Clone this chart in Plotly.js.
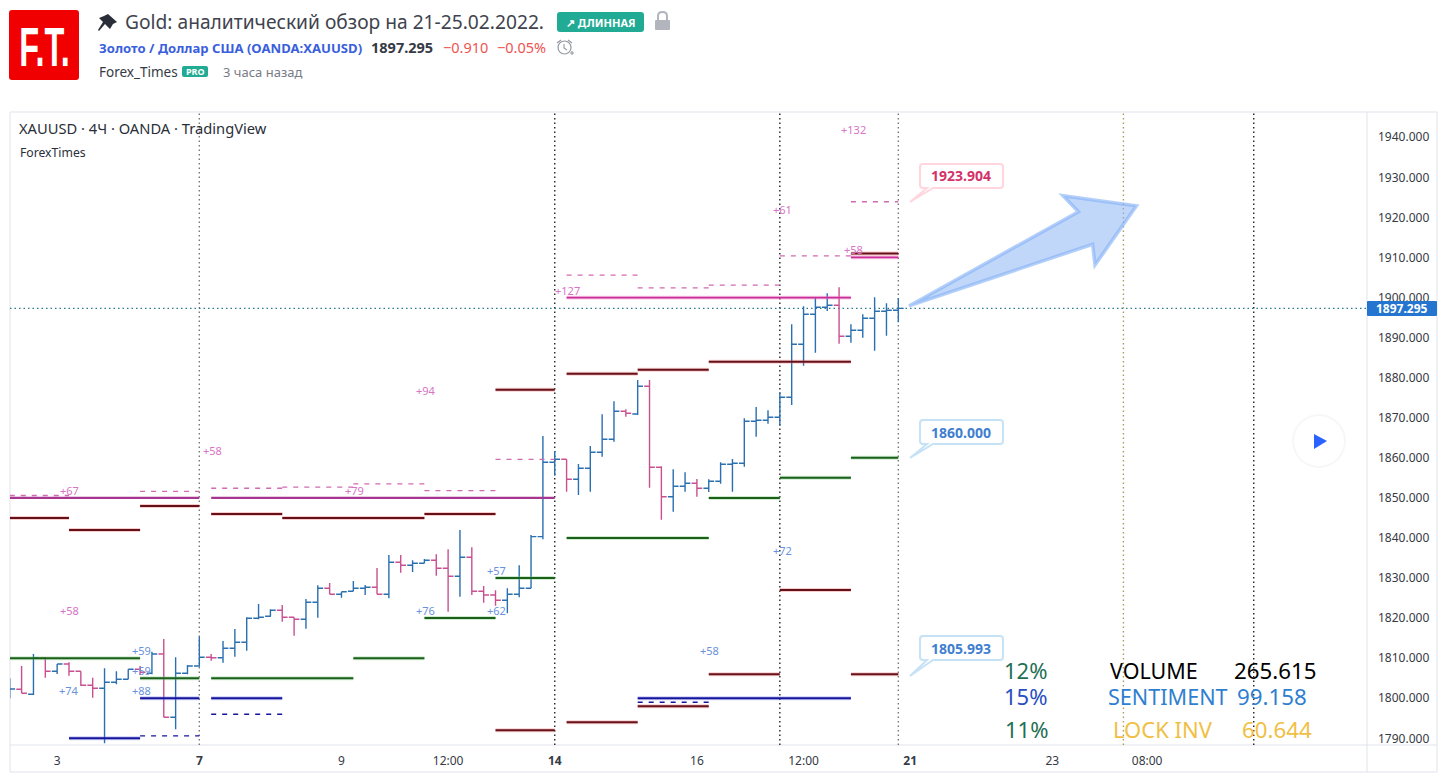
<!DOCTYPE html>
<html><head><meta charset="utf-8">
<style>html,body{margin:0;padding:0;background:#fff;overflow:hidden}</style>
<script src="https://cdn.plot.ly/plotly-3.0.1.min.js"></script>
</head><body><div id="chart" style="width:1440px;height:777px"></div>
<script>
// ---- data: 4h bars, x = bar number counted from Monday the 7th
const barIndex=[-16,-15,-14,-13,-12,-11,-10,-9,-8,-7,-6,-5,-4,-3,-2,-1,0,1,2,3,4,5,6,7,8,9,10,11,12,13,14,15,16,17,18,19,20,21,22,23,24,25,26,27,28,29,30,31,32,33,34,35,36,37,38,39,40,41,42,43,44,45,46,47,48,49,50,51,52,53,54,55,56,57,58,59];
const open=[1802,1802.23,1800.98,1809.97,1806.72,1808.55,1806.72,1803.23,1802.48,1803.98,1804.73,1807.22,1806.22,1811.04,1795.24,1806.22,1808.05,1810.22,1810.1,1812.46,1813.96,1819.95,1820.45,1821.95,1820.2,1819.7,1823.95,1827.44,1825.94,1826.69,1827.44,1827.69,1825.94,1833.93,1833.18,1833.68,1834.43,1832.43,1830.44,1835.18,1826.69,1825.77,1824.44,1825.94,1827.44,1840.32,1858.89,1859.64,1854.65,1857.39,1861.39,1864.63,1871.62,1870.95,1877.86,1857.64,1850.3,1852.9,1853.65,1852.4,1854.15,1858.39,1858.64,1869.12,1869.37,1870.12,1875.11,1888.34,1895.83,1897.58,1898.08,1890.34,1891.84,1894.83,1896.58,1896.83];
const high=[1805,1808.05,1811.04,1810.29,1808.55,1808.97,1806.72,1805.13,1807.47,1806.72,1807.22,1808.05,1811.62,1814.79,1810.22,1808.3,1815.36,1811.04,1814.29,1817.28,1820.2,1823.52,1822.2,1823.27,1820.2,1824.77,1828.19,1828.76,1826.59,1829.26,1828.26,1832.51,1835.75,1835.75,1834.43,1834.75,1835.93,1837.17,1841.99,1837.67,1828.01,1826.94,1827.44,1833.18,1840.74,1865.45,1861.71,1859.64,1858.46,1862.96,1870.87,1874.12,1872.12,1879.43,1879.43,1857.89,1857.14,1856.39,1854.72,1854.65,1858.89,1859.71,1869.87,1872.69,1871.87,1876.36,1893.33,1897.83,1900.07,1901.07,1902.57,1893.33,1895.83,1900.07,1898.58,1899.82];
const low=[1800,1801.23,1800.81,1805.13,1806.05,1805.62,1803.05,1800.13,1788.75,1803.48,1804.73,1805.8,1805.97,1795.24,1792.25,1805.97,1807.87,1809.37,1808.87,1810.37,1811.86,1819.7,1820.35,1819.1,1815.61,1817.36,1820.1,1825.94,1825.09,1826.69,1825.77,1825.94,1824.94,1831.33,1831.51,1833.68,1830.58,1821.6,1825.34,1825.77,1823.85,1823.1,1821.2,1825.19,1827.44,1839.67,1855.54,1851.55,1850.73,1851.55,1860.29,1864.03,1870.27,1870.7,1852.55,1844.56,1846.56,1851.55,1850.3,1851.48,1853.55,1851.55,1857.79,1865.28,1868.52,1868.02,1873.19,1883,1886.25,1896.65,1888.49,1888.74,1889.99,1886.74,1890.49,1893.83];
const close=[1802.3,1801.23,1810.04,1806.72,1808.55,1806.72,1803.23,1802.48,1803.98,1804.73,1807.22,1806.47,1811.04,1795.24,1806.22,1808.05,1810.22,1810.1,1812.46,1813.96,1819.95,1820.2,1821.95,1820.2,1819.7,1823.95,1827.44,1825.94,1826.59,1827.44,1827.69,1825.94,1833.93,1833.18,1833.68,1834.43,1832.43,1830.44,1835.18,1826.69,1825.77,1824.44,1825.94,1827.44,1840.32,1858.89,1859.64,1854.65,1857.39,1861.39,1864.63,1871.62,1871.12,1877.86,1857.64,1850.3,1852.9,1853.65,1852.4,1854.15,1858.39,1858.64,1869.12,1869.37,1870.12,1875.11,1888.34,1895.83,1897.58,1898.08,1890.34,1891.84,1894.83,1896.58,1896.83,1897.295];
const lastPrice=1897.295;

// horizontal levels: from bar, to bar, price
const redFrom=[-16,-11,-5,1,7,19,25,31,37,43,55,25,31,37,43,49,55];
const redTo=[-11,-5,0,7,19,25,30,37,43,55,59,30,37,43,49,55,59];
const redPrice=[1845,1842,1848,1846,1845,1846,1877,1881,1882,1884,1911,1792,1794,1798,1806,1827,1806];
const greenFrom=[-16,-5,1,13,19,25,31,43,49,55];
const greenTo=[-5,0,13,19,25,30,43,49,55,59];
const greenPrice=[1810,1805,1805,1810,1820,1830,1840,1850,1855,1860];
const navyFrom=[-11,-5,1,37];
const navyTo=[-5,0,7,55];
const navyPrice=[1790,1800,1800,1800];
const navyDashFrom=[-5,1,37];
const navyDashTo=[0,7,43];
const navyDashPrice=[1790.6,1796,1799];
const purpleFrom=[-16,1];
const purpleTo=[0,30];
const purplePrice=[1850,1850];
const magentaFrom=[31,55];
const magentaTo=[55,59];
const magentaPrice=[1900,1910];
const dashFrom=[-16,-11,-5,1,7,13,19,25,31,37,43,49,55];
const dashTo=[-11,-5,0,7,13,19,25,30,37,43,49,55,59];
const dashPrice=[1850.6,1850,1851.6,1852.4,1852.7,1853.5,1851.8,1859.6,1905.6,1902.4,1903.1,1910.4,1923.904];

// labels over the levels
const pinkNoteBar=[-11,-11,1.1,13.1,19.1,31.1,49.2,55.2,55.2];
const pinkNotePrice=[1851.9,1822,1861.9,1851.9,1876.9,1901.8,1922,1942,1912];
const pinkNoteText=['+67','+58','+58','+79','+94','+127','+61','+132','+58'];
const blueNoteBar=[-11,-4.9,-4.9,-4.9,19.1,25.1,25.1,43.1,49.2];
const blueNotePrice=[1802,1812,1807,1802,1822,1832,1822,1812,1836.9];
const blueNoteText=['+74','+59','+59','+88','+76','+57','+62','+58','+72'];

// axes
const priceTicks=[1790,1800,1810,1820,1830,1840,1850,1860,1870,1880,1890,1900,1910,1920,1930,1940];
const timeTicks=[-12,0,12,21,30,42,51,60,72,80];
const timeLabels=['3','<b>7</b>','9','12:00','<b>14</b>','16','12:00','<b>21</b>','23','08:00'];
const sessionBars=[0,30,49,59,78,89];

// ---- layout helpers (screen position -> paper fraction)
const L=10,R=1367,T=112,B=745;
const X=x=>(x-L)/(R-L), Y=y=>(B-y)/(B-T);
const pathOf=pts=>pts.map(p=>typeof p==='string'?p:X(p[0])+','+Y(p[1])).join(' ');
const FONT='"Noto Sans",sans-serif';

function segs(a,b,p){const x=[],y=[];a.forEach((v,i)=>{x.push(v,b[i],null);y.push(p[i],p[i],null)});return{x,y};}
function level(a,b,p,color,width,dash,halo){
  const s=segs(a,b,p),out=[];
  if(halo) out.push({type:'scatter',mode:'lines',x:s.x,y:s.y,hoverinfo:'skip',line:{color:halo,width:width+2}});
  out.push({type:'scatter',mode:'lines',x:s.x,y:s.y,hoverinfo:'skip',line:{color,width,dash:dash||'solid'}});
  return out;
}
const traces=[
  ...level(dashFrom,dashTo,dashPrice,'#cf6bb0',1.3,'5px,6px'),
  ...level(purpleFrom,purpleTo,purplePrice,'#a6368f',2.4),
  ...level(magentaFrom,magentaTo,magentaPrice,'#c92f97',1.8,null,'rgba(240,120,200,.4)'),
  ...level(redFrom,redTo,redPrice,'#66101a',2,null,'rgba(230,110,110,.35)'),
  ...level(greenFrom,greenTo,greenPrice,'#1c5e1c',2,null,'rgba(110,200,110,.35)'),
  ...level(navyFrom,navyTo,navyPrice,'#14149c',2,null,'rgba(110,110,230,.35)'),
  ...level(navyDashFrom,navyDashTo,navyDashPrice,'#14149c',1.3,'5px,6px'),
  {type:'ohlc',x:barIndex,open,high,low,close,tickwidth:0.45,hoverinfo:'skip',
   increasing:{line:{color:'#2a6fb0',width:1.4}},decreasing:{line:{color:'#c9508f',width:1.4}}}
];

function rounded(x0,y0,x1,y1,r,extra){
  return ['M',[x0+r,y0],'L',[x1-r,y0],'Q',[x1,y0],[x1,y0+r],'L',[x1,y1-r],'Q',[x1,y1],[x1-r,y1]].concat(
    extra||[],['L',[x0+r,y1],'Q',[x0,y1],[x0,y1-r],'L',[x0,y0+r],'Q',[x0,y0],[x0+r,y0],'Z']);
}
const paperShape=(pts,fill,line,w)=>({type:'path',xref:'paper',yref:'paper',path:pathOf(pts),fillcolor:fill,line:{color:line||'rgba(0,0,0,0)',width:w||0},layer:'above'});
const rule=(x0,y0,x1,y1,c)=>({type:'line',xref:'paper',yref:'paper',x0:X(x0),x1:X(x1),y0:Y(y0),y1:Y(y1),line:{color:c,width:1},layer:'below'});
function callout(y0,tipY,stroke){
  const y1=y0+24;
  return paperShape(rounded(920,y0,1003,y1,3,['L',[933,y1],'L',[910,tipY],'L',[927,y1]]),'#fff',stroke,2);
}
const sessionColors=['#777','#222','#222','#777','#b09a5c','#222'];
const shapes=[
  rule(10,112,1437,112,'#e0e3eb'),rule(10,772,1437,772,'#e0e3eb'),rule(10,112,10,772,'#e0e3eb'),
  rule(1437,112,1437,772,'#e0e3eb'),rule(1367,112,1367,772,'#e0e3eb'),rule(10,745,1437,745,'#e0e3eb'),
  ...sessionBars.map((b,i)=>({type:'line',xref:'x',yref:'paper',x0:b,x1:b,y0:0,y1:1,layer:'below',line:{color:sessionColors[i],width:1.4,dash:'1.5px,3px'}})),
  {type:'line',xref:'paper',yref:'y',x0:0,x1:1,y0:lastPrice,y1:lastPrice,layer:'below',line:{color:'#2a7a8c',width:1.2,dash:'1.5px,3px'}},
  // big trend arrow
  {type:'path',xref:'x',yref:'y',layer:'above',line:{color:'rgba(130,175,245,.6)',width:3.5},fillcolor:'rgba(130,175,245,.5)',
   path:'M 59.9,1897.9 L 74.2,1921.4 L 72.9,1925.4 L 79.1,1922.9 L 75.6,1908.1 L 75.4,1913.3 Z'},
  callout(164,202,'#ffd6de'),callout(420,458,'#c6e2f6'),callout(636,676,'#c6e2f6'),
  // last price tag
  paperShape(rounded(1367,301,1437,316,1),'#2475d0'),
  // play button
  {type:'circle',xref:'paper',yref:'paper',x0:X(1292),x1:X(1346),y0:Y(468),y1:Y(414),fillcolor:'#f6f7f9',line:{width:0},layer:'above'},
  {type:'circle',xref:'paper',yref:'paper',x0:X(1294),x1:X(1344),y0:Y(466),y1:Y(416),fillcolor:'#fff',line:{width:0},layer:'above'},
  paperShape(['M',[1314,434],'L',[1327,441],'L',[1314,449],'Z'],'#2962ff'),
  // logo
  paperShape(rounded(9,10,79,80,3),'#f00000'),
  // pin
  paperShape(['M',[108,14],'L',[117,22],'L',[113,24],'L',[110,29],'L',[105,24],'L',[99,31],'L',[98,30],'L',[103,22],'L',[99,18],'L',[104,16],'Z'],'#2a2e39'),
  // long badge
  paperShape(rounded(557,12,644,32,3),'#22ab94'),
  // lock
  paperShape(rounded(655,20,670,30,1),'#b2b5be'),
  paperShape(['M',[658,20],'L',[658,16],'Q',[658,12],[662.5,12],'Q',[667,12],[667,16],'L',[667,20]],'rgba(0,0,0,0)','#b2b5be',2),
  // alarm
  {type:'circle',xref:'paper',yref:'paper',x0:X(558),x1:X(571),y0:Y(54),y1:Y(41),fillcolor:'rgba(0,0,0,0)',line:{color:'#9598a1',width:1.2},layer:'above'},
  paperShape(['M',[557,43],'L',[561,40],'M',[568,40],'L',[572,43],'M',[564,44],'L',[564,48],'L',[567,50],'M',[570,53],'L',[574,53],'M',[572,51],'L',[572,55]],'rgba(0,0,0,0)','#9598a1',1.1),
  // PRO badge
  paperShape(rounded(182,66,208,77,2),'#22ab94')
];

const txt=(x,y,text,size,color,anchor,extra)=>Object.assign({xref:'paper',yref:'paper',x:X(x),y:Y(y),text,showarrow:false,
  xanchor:anchor||'left',yanchor:'middle',borderpad:0,font:{family:FONT,size,color}},extra||{});
const notes=(bars,prices,texts,color)=>bars.map((b,i)=>({xref:'x',yref:'y',x:b,y:prices[i],text:texts[i],showarrow:false,xanchor:'center',yanchor:'middle',font:{family:FONT,size:11,color}}));
const annotations=[
  ...notes(pinkNoteBar,pinkNotePrice,pinkNoteText,'#d774c6'),
  ...notes(blueNoteBar,blueNotePrice,blueNoteText,'#6a92dc'),
  txt(18,128,'XAUUSD · 4Ч · OANDA · TradingView',14.7,'#2a2e39'),
  txt(18.5,152.5,'ForexTimes',12.2,'#2a2e39'),
  txt(961.5,176,'<b>1923.904</b>',14,'#d4326a','center'),
  txt(961.5,432,'<b>1860.000</b>',14,'#3f7fd0','center'),
  txt(961.5,648,'<b>1805.993</b>',14,'#3f7fd0','center'),
  txt(1402,308.5,'<b>1897.295</b>',12,'#fff','center'),
  txt(1025.5,670,'12%',22,'#1f6f54','center'),
  txt(1025.5,696,'15%',22,'#2a4fbf','center'),
  txt(1026.5,729,'11%',22,'#1f6f54','center'),
  txt(1109,670,'VOLUME',21.5,'#000'),
  txt(1233,670,'265.615',22.3,'#000'),
  txt(1107,696,'SENTIMENT',21.6,'#2f7fd0'),
  txt(1236,696,'99.158',22.3,'#2f7fd0'),
  txt(1112,729,'LOCK INV',22,'#f0bf45'),
  txt(1241,729,'60.644',22.3,'#f0bf45'),
  // header
  txt(44,46,'<b>F.T.</b>',56,'#fff','center',{font:{family:'"Liberation Sans",sans-serif',size:56,color:'#fff'}}),
  txt(124,21,'Gold: аналитический обзор на 21-25.02.2022.',19.2,'#40434e'),
  txt(600.5,22,'<b>↗ ДЛИННАЯ</b>',11,'#fff','center'),
  txt(98,48.5,'<b>Золото / Доллар США</b> <b>(OANDA:XAUUSD)</b>',13.1,'#3a5fdc'),
  txt(370,47.5,'<b>1897.295</b>',14.5,'#363a45'),
  txt(442,47.5,'−0.910',14.5,'#ef5350'),
  txt(496,47.5,'−0.05%',14.5,'#ef5350'),
  txt(98,71.5,'Forex_Times',13.5,'#363a45'),
  txt(195,71.5,'<b>PRO</b>',9,'#fff','center'),
  txt(222,71.5,'3 часа назад',13,'#787b86')
];

const layout={
  width:1440,height:777,paper_bgcolor:'#fff',plot_bgcolor:'#fff',showlegend:false,hovermode:false,
  margin:{l:L,r:1440-R,t:T,b:777-B,pad:0,autoexpand:false},
  font:{family:FONT,color:'#2a2e39',size:12},
  xaxis:{type:'linear',range:[-15.98,98.56],autorange:false,showgrid:false,zeroline:false,showline:false,ticks:'',ticklabelstandoff:7,
    tickmode:'array',tickvals:timeTicks,ticktext:timeLabels,tickfont:{size:12,color:'#363a45',family:FONT},rangeslider:{visible:false},fixedrange:true},
  yaxis:{side:'right',range:[1788.33,1946.3],autorange:false,showgrid:false,zeroline:false,showline:false,ticks:'',ticklabelstandoff:10,
    tickmode:'array',tickvals:priceTicks,ticktext:priceTicks.map(v=>v.toFixed(3)),tickfont:{size:12,color:'#363a45',family:FONT},fixedrange:true},
  shapes,annotations
};
Plotly.newPlot('chart',traces,layout,{displayModeBar:false,staticPlot:true}).then(()=>{
  // the logo lettering is tall and condensed: squeeze it horizontally around its centre
  document.querySelectorAll('.annotation-text').forEach(t=>{
    if(t.textContent==='F.T.'){
      const b=t.getBBox(),c=b.x+b.width/2;
      t.setAttribute('transform','translate('+c+',0) scale(.58,1) translate('+(-c)+',0)');
    }
  });
});
</script></body></html>
